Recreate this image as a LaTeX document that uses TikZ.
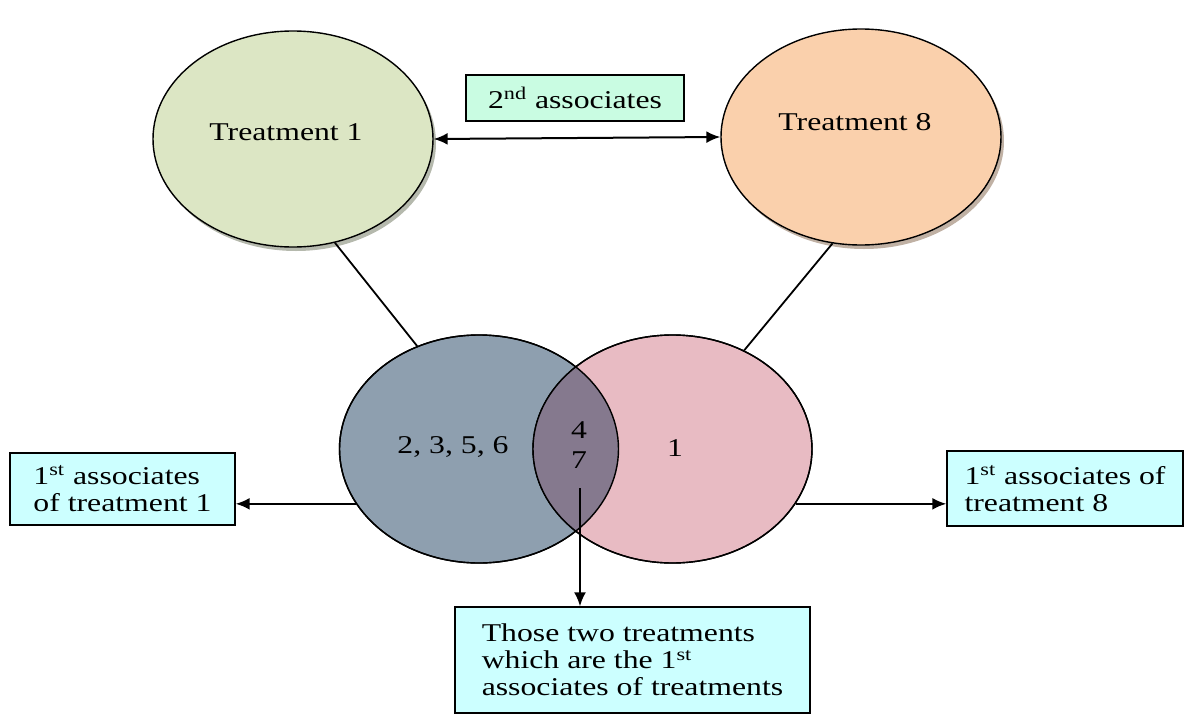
\documentclass[tikz,border=0pt]{standalone}
\usepackage{fontspec}
\setmainfont{Liberation Serif}[FakeStretch=1.24]
\usetikzlibrary{shapes.geometric,arrows.meta,shadows}
\definecolor{tgreen}{HTML}{DCE6C4}
\definecolor{torange}{HTML}{FAD0AC}
\definecolor{vblue}{HTML}{8E9FAF}
\definecolor{vpink}{HTML}{E8BBC3}
\definecolor{vboth}{HTML}{85798E}
\definecolor{mint}{HTML}{C9FCE2}
\definecolor{lcyan}{HTML}{CCFFFF}
\begin{document}
\begin{tikzpicture}[x=0.5pt,y=-0.5pt,>={Latex[length=7pt,width=6pt]},
    every node/.style={font=\fontsize{12.8}{13.6}\selectfont},
    treat/.style={ellipse,draw,line width=0.7pt,minimum width=140pt,minimum height=108pt,fill=#1,
        drop shadow={shadow xshift=1.5pt,shadow yshift=-2pt,fill=#1!60!black,opacity=0.6}},
    venn/.style={ellipse,draw,line width=0.7pt,minimum width=139.5pt,minimum height=114pt,fill=#1},
    note/.style={draw,line width=0.7pt,fill=#1,align=left,inner sep=0pt}]
    \useasboundingbox(0,0)rectangle(1185,718);
    % treatments and 2nd associates
    \node[treat=tgreen](t1)at(293,139){};
    \node[treat=torange](t8)at(861,137){};
    \node(t1txt)at(286,132){Treatment 1};
    \node(t8txt)at(855,122){Treatment 8};
    \node[note=mint,minimum width=109pt,minimum height=23pt](a2)at(575,98){2\textsuperscript{nd} associates};
    \draw[<->,line width=1pt](t1.east)--(t8.west);
    % venn
    \node[venn=vblue](vL)at(479,449){};
    \node[venn=vpink](vR)at(672.5,449){};
    \begin{scope}
        \clip(479,449)ellipse[x radius=69.75pt,y radius=57pt];
        \fill[vboth](672.5,449)ellipse[x radius=69.75pt,y radius=57pt];
    \end{scope}
    \foreach \v in{vL,vR}\draw[line width=0.7pt](\v.center)ellipse[x radius=69.75pt,y radius=57pt];
    \draw[line width=0.9pt](t1.-68)--(vL.121);
    \draw[line width=0.9pt](t8.-105)--(vR.54);
    \node(lset)at(453,447){2, 3, 5, 6};
    \node(rset)at(675,448){1};
    \node[align=center](mset)at(579,445){4\\[1.5pt]7};
    % 1st associates
    \node[note=lcyan,minimum width=112.5pt,minimum height=36pt](a1)at(122.5,489){1\textsuperscript{st} associates\\of treatment 1};
    \node[note=lcyan,minimum width=118pt,minimum height=37.5pt](a8)at(1065,488.5){1\textsuperscript{st} associates of\\treatment 8};
    \node[note=lcyan,minimum width=177.5pt,minimum height=53pt](tb)at(632.5,660){Those two treatments\\which are the 1\textsuperscript{st}\\associates of treatments};
    \draw[->,line width=1pt](vL.-156)--(vL.-156-|a1.east);
    \draw[->,line width=1pt](vR.-24)--(vR.-24-|a8.west);
    \coordinate(dn)at(580,488);
    \draw[->,line width=1pt](dn)--(dn|-tb.north);
\end{tikzpicture}
\end{document}
